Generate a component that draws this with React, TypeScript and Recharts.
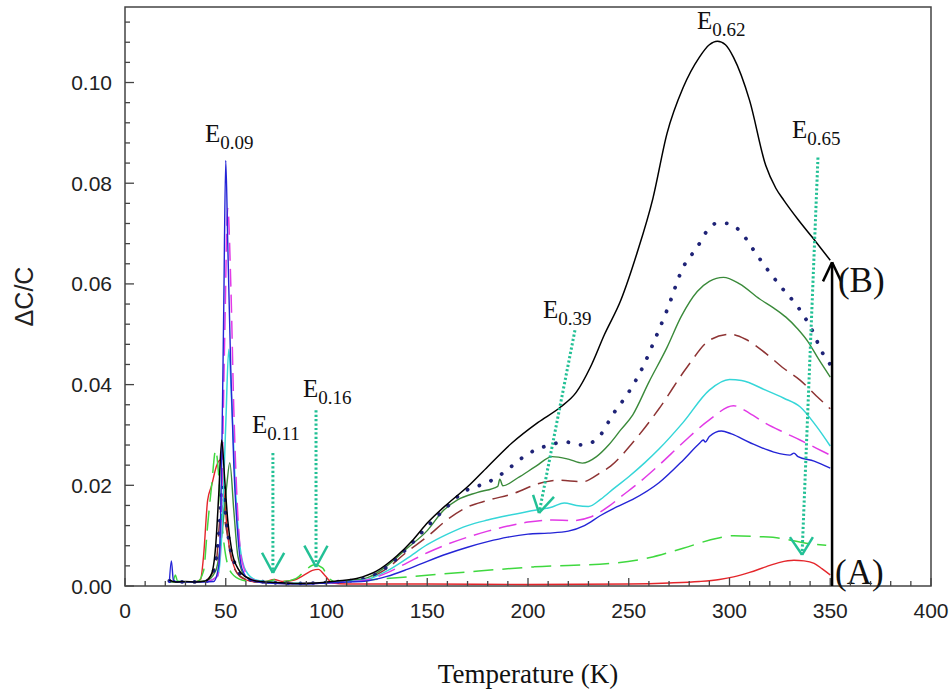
import React from 'react';
import { LineChart, Line, XAxis, YAxis, ReferenceArea, ReferenceLine, ReferenceDot } from 'recharts';

type P = [number, number];

// Temperature (K) vs ΔC/C, one array per curve
const blackSolid: P[] = [[22,0.0012],[25,0.0008],[30,0.0009],[35,0.0008],[40,0.0010],[43,0.0025],[45,0.008],[46.5,0.018],[48,0.029],[49.5,0.021],[51,0.013],[53,0.007],[56,0.0035],[60,0.0018],[65,0.0010],[75,0.0007],[85,0.0005],[95,0.0006],[105,0.0010],[115,0.0015],[125,0.0030],[135,0.0060],[143,0.0092],[150,0.0125],[160,0.0163],[170,0.0197],[180,0.0237],[192,0.0284],[205,0.0325],[216,0.0355],[224,0.0385],[231,0.0435],[238,0.0500],[246,0.0567],[254,0.0660],[262,0.0770],[269,0.0899],[277,0.0990],[285,0.1050],[290,0.1075],[294,0.1082],[298,0.1075],[302,0.1050],[310,0.0964],[318,0.0835],[323,0.0790],[327,0.0766],[334,0.0728],[341,0.0693],[350,0.0647]];
const navyDotted: P[] = [[22,0.0010],[30,0.0008],[40,0.0009],[44,0.003],[46.5,0.010],[48.5,0.020],[50,0.014],[52,0.008],[55,0.004],[60,0.0015],[70,0.0008],[85,0.0005],[100,0.0007],[110,0.0010],[120,0.0016],[130,0.0038],[140,0.0075],[150,0.0118],[160,0.0158],[168,0.0187],[176,0.0200],[183,0.0212],[191,0.0235],[199,0.0260],[209,0.0278],[219,0.0286],[225,0.0280],[231,0.0284],[236,0.0300],[242,0.0340],[250,0.0385],[257,0.0435],[263,0.0490],[269,0.0548],[277,0.0633],[284,0.0673],[289,0.0706],[294,0.0721],[299,0.0720],[305,0.0706],[312,0.0667],[318,0.0633],[325,0.0597],[335,0.0548],[341,0.0508],[346,0.0464],[350,0.0440]];
const greenSolid: P[] = [[22,0.0008],[30,0.0008],[40,0.0010],[45,0.003],[48,0.010],[50.5,0.020],[52,0.0245],[54,0.015],[56,0.006],[60,0.0018],[70,0.0008],[85,0.0005],[100,0.0007],[110,0.0010],[120,0.0016],[130,0.0040],[140,0.0075],[150,0.0110],[158,0.0150],[165,0.0171],[175,0.0186],[185,0.0198],[186,0.0212],[187.5,0.0199],[195,0.0215],[204,0.0238],[212,0.0257],[220,0.0252],[227,0.0244],[234,0.0257],[240,0.0280],[246,0.0310],[252,0.0340],[260,0.0405],[269,0.0474],[276,0.0535],[284,0.0585],[290,0.0605],[297,0.0613],[305,0.0600],[315,0.0570],[322,0.0552],[328,0.0534],[334,0.0510],[339,0.0485],[344,0.0452],[350,0.0415]];
const brownDashed: P[] = [[40,0.0010],[45,0.004],[48,0.016],[50,0.012],[53,0.005],[57,0.002],[65,0.0008],[85,0.0005],[100,0.0007],[110,0.0010],[120,0.0015],[130,0.0035],[140,0.0068],[150,0.0098],[160,0.0132],[170,0.0157],[180,0.0170],[193,0.0184],[205,0.0203],[215,0.0210],[227,0.0207],[236,0.0225],[241,0.0238],[252,0.0285],[265,0.0352],[279,0.0435],[290,0.0488],[300,0.0500],[308,0.0490],[318,0.0462],[327,0.0432],[335,0.0409],[343,0.0378],[350,0.0352]];
const cyanSolid: P[] = [[40,0.0008],[46,0.002],[48,0.010],[50,0.032],[51.5,0.047],[53,0.036],[55,0.018],[57,0.008],[60,0.003],[65,0.0012],[75,0.0007],[90,0.0005],[100,0.0007],[110,0.0009],[120,0.0013],[130,0.0030],[140,0.0055],[150,0.0082],[160,0.0103],[170,0.0120],[180,0.0131],[190,0.0140],[200,0.0148],[212,0.0157],[218,0.0165],[224,0.0160],[230,0.0158],[236,0.0172],[243,0.0195],[250,0.0217],[258,0.0245],[265,0.0272],[277,0.0325],[290,0.0389],[300,0.0410],[306,0.0408],[318,0.0389],[327,0.0373],[335,0.0356],[343,0.0318],[350,0.0278]];
const magentaDashed: P[] = [[40,0.0008],[46,0.002],[48,0.018],[49.5,0.050],[51,0.075],[52.5,0.060],[54,0.035],[56,0.014],[58,0.005],[62,0.0015],[70,0.0007],[90,0.0005],[100,0.0006],[110,0.0008],[120,0.0012],[130,0.0026],[140,0.0046],[150,0.0066],[160,0.0083],[170,0.0097],[180,0.0109],[190,0.0119],[200,0.0127],[212,0.0131],[222,0.0130],[231,0.0137],[240,0.0158],[246,0.0177],[255,0.0205],[265,0.0240],[277,0.0285],[290,0.0330],[302,0.0358],[310,0.0343],[318,0.0323],[327,0.0305],[335,0.0290],[343,0.0274],[350,0.0260]];
const blueSolid: P[] = [[22,0.0006],[23,0.005],[24,0.0012],[26,0.0008],[35,0.0008],[44,0.0009],[46.5,0.004],[48,0.025],[49,0.055],[50,0.0845],[51,0.068],[52.5,0.043],[54,0.024],[56,0.010],[58,0.0035],[62,0.0012],[70,0.0006],[90,0.0004],[100,0.0006],[110,0.0008],[120,0.0010],[130,0.0019],[140,0.0033],[150,0.0049],[160,0.0064],[170,0.0077],[180,0.0088],[190,0.0097],[200,0.0103],[210,0.0105],[220,0.0109],[228,0.0120],[236,0.0140],[244,0.0157],[252,0.0172],[265,0.0205],[277,0.0250],[285,0.0283],[287,0.0290],[288,0.0286],[290,0.0297],[296,0.0308],[301,0.0302],[310,0.0285],[322,0.0266],[330,0.0260],[332,0.0264],[334,0.0257],[342,0.0248],[350,0.0234]];
const limeDashed: P[] = [[24,0.0008],[25,0.0022],[26,0.0010],[30,0.0008],[36,0.0009],[39,0.003],[41,0.012],[43,0.020],[45,0.027],[46.5,0.022],[48,0.013],[50,0.006],[53,0.0025],[58,0.0012],[65,0.0008],[72,0.0010],[75,0.0013],[79,0.0009],[85,0.0015],[90,0.0033],[94,0.0042],[98,0.0036],[101,0.0016],[105,0.0008],[120,0.0012],[140,0.0018],[170,0.0028],[203,0.0038],[244,0.0046],[260,0.0056],[277,0.0075],[294,0.0095],[302,0.0100],[315,0.0098],[325,0.0095],[338,0.0085],[348,0.0081]];
const redSolid: P[] = [[35,0.0008],[37.5,0.0013],[39,0.006],[41,0.017],[43,0.020],[45.3,0.0237],[47,0.025],[49,0.019],[51,0.010],[54,0.004],[58,0.0016],[65,0.0008],[70,0.0009],[74,0.0013],[78,0.0009],[84,0.0012],[89,0.0022],[93,0.0031],[96,0.0033],[99,0.0022],[103,0.0006],[110,0.0004],[150,0.0004],[200,0.0003],[250,0.0004],[270,0.0006],[285,0.0009],[295,0.0013],[302,0.0018],[310,0.0027],[318,0.0038],[325,0.0047],[332,0.0051],[337,0.0050],[342,0.0045],[346,0.0034],[350,0.0022]];

const xTickValues = [0, 50, 100, 150, 200, 250, 300, 350, 400];
const yTickValues = [0, 0.02, 0.04, 0.06, 0.08, 0.1];
const xMinorStep = 10;
const yMinorStep = 0.004;
const xMax = 400;
const yMax = 0.115;

// Energy labels: subscript text, anchor (T, ΔC/C)
const energyLabels = [
  { sub: '0.09', x: 39.7, y: 0.0881 },
  { sub: '0.11', x: 63, y: 0.0304 },
  { sub: '0.16', x: 88.3, y: 0.0375 },
  { sub: '0.39', x: 207.4, y: 0.0532 },
  { sub: '0.62', x: 283.9, y: 0.1107 },
  { sub: '0.65', x: 331, y: 0.0889 },
];

// Arrows: start, tip, arrowhead arm ends
const energyArrows = [
  { from: [73.4, 0.0264], tip: [73.4, 0.0026], l: [68, 0.0066], r: [79, 0.0066] },
  { from: [94.8, 0.0349], tip: [94.8, 0.0038], l: [89, 0.0080], r: [100.5, 0.0080] },
  { from: [223.3, 0.0508], tip: [205.5, 0.0145], l: [202.5, 0.0181], r: [212.9, 0.0177] },
  { from: [343.9, 0.0851], tip: [336, 0.0062], l: [330, 0.0097], r: [341.4, 0.0097] },
];
const rangeArrow = { from: [350.9, 0], tip: [350.9, 0.0643], l: [346.4, 0.0605], r: [355.4, 0.0605] };
const endLabels = [
  { text: '(B)', x: 353.8, y: 0.0583 },
  { text: '(A)', x: 352.4, y: 0.0004 },
];

const xTicks: number[] = [];
for (let v = 0; v <= xMax + 1e-9; v += xMinorStep) xTicks.push(Math.round(v));
const yTicks: number[] = [];
for (let i = 0; i * yMinorStep <= yMax; i++) yTicks.push(Math.round(i * yMinorStep * 1000) / 1000);

const toXY = (arr: P[]) => arr.map(([x, y]) => ({ x, y }));

const series = [
  { key: 'red', data: redSolid, color: '#e4262b', dash: undefined as string | undefined, w: 1.4 },
  { key: 'lime', data: limeDashed, color: '#3fd83f', dash: '20 9', w: 1.5 },
  { key: 'brown', data: brownDashed, color: '#8e3434', dash: '16 8', w: 1.5 },
  { key: 'green', data: greenSolid, color: '#3a8a3a', dash: undefined, w: 1.4 },
  { key: 'navy', data: navyDotted, color: '#1f2377', dash: '0.1 12.5', w: 3.8 },
  { key: 'cyan', data: cyanSolid, color: '#35d6d8', dash: undefined, w: 1.5 },
  { key: 'magenta', data: magentaDashed, color: '#e23ae6', dash: '18 8', w: 1.5 },
  { key: 'blue', data: blueSolid, color: '#2424d6', dash: undefined, w: 1.4 },
  { key: 'black', data: blackSolid, color: '#000000', dash: undefined, w: 1.5 },
];

const SANS = '"Liberation Sans", Arial, sans-serif';
const SERIF = '"Liberation Serif", "Times New Roman", serif';
const TEAL = '#22c095';
const AXIS = '#444';

const XTick = (props: any) => {
  const { x, y, payload } = props;
  const v = payload.value as number;
  const major = xTickValues.includes(v);
  return (
    <g>
      <line x1={x} x2={x} y1={y} y2={y - (major ? 8 : 5)} stroke={AXIS} strokeWidth={1.3} />
      {major && (
        <text x={x} y={y + 32} textAnchor="middle" fontFamily={SANS} fontSize={21} fill="#222">
          {v}
        </text>
      )}
    </g>
  );
};

const YTick = (props: any) => {
  const { x, y, payload } = props;
  const v = payload.value as number;
  const major = yTickValues.some((t) => Math.abs(t - v) < 1e-7);
  return (
    <g>
      <line x1={x} x2={x + (major ? 9 : 5)} y1={y} y2={y} stroke={AXIS} strokeWidth={1.3} />
      {major && (
        <text x={x - 13} y={y + 7.5} textAnchor="end" fontFamily={SANS} fontSize={21} fill="#222">
          {v.toFixed(2)}
        </text>
      )}
    </g>
  );
};

const seg = (a: number[], b: number[]) => [
  { x: a[0], y: a[1] },
  { x: b[0], y: b[1] },
];

export default function App() {
  return (
    <div style={{ position: 'absolute', left: 0, top: 0 }}>
      <LineChart width={952} height={695} margin={{ top: 7, right: 21, bottom: 0, left: 0 }}>
        <XAxis
          type="number"
          dataKey="x"
          domain={[0, xMax]}
          ticks={xTicks}
          interval={0}
          tickSize={0}
          tickMargin={0}
          axisLine={false}
          tick={<XTick />}
          height={109}
          allowDataOverflow
          label={{
            content: (p: any) => {
              const vb = p.viewBox || { x: 125, y: 586, width: 806, height: 109 };
              return (
                <text x={vb.x + vb.width / 2} y={vb.y + 97} textAnchor="middle" fontFamily={SERIF} fontSize={27} fill="#111">
                  Temperature (K)
                </text>
              );
            },
          }}
        />
        <YAxis
          type="number"
          dataKey="y"
          domain={[0, yMax]}
          ticks={yTicks}
          interval={0}
          tickSize={0}
          tickMargin={0}
          axisLine={false}
          tick={<YTick />}
          width={125}
          allowDataOverflow
          label={{
            content: (p: any) => {
              const vb = p.viewBox || { x: 0, y: 7, width: 125, height: 579 };
              const cy = vb.y + vb.height / 2;
              return (
                <text x={24} y={cy} transform={`rotate(-90, 24, ${cy})`} textAnchor="middle" dominantBaseline="central" fontFamily={SANS} fontSize={25} fill="#222">
                  ΔC/C
                </text>
              );
            },
          }}
        />
        {series.map((s) => (
          <Line
            key={s.key}
            data={toXY(s.data)}
            dataKey="y"
            type="monotone"
            stroke={s.color}
            strokeWidth={s.w}
            strokeDasharray={s.dash}
            strokeLinecap={s.key === 'navy' ? 'round' : 'butt'}
            dot={false}
            activeDot={false}
            isAnimationActive={false}
          />
        ))}
        <ReferenceArea x1={0} x2={xMax} y1={0} y2={yMax} fill="none" stroke={AXIS} strokeWidth={1.5} ifOverflow="visible" />
        {energyArrows.map((a, i) => (
          <ReferenceLine key={`s${i}`} segment={seg(a.from, a.tip)} stroke={TEAL} strokeWidth={3} strokeDasharray="2.2 2.2" ifOverflow="visible" />
        ))}
        {energyArrows.map((a, i) => (
          <ReferenceLine key={`l${i}`} segment={seg(a.l, a.tip)} stroke={TEAL} strokeWidth={2.5} ifOverflow="visible" />
        ))}
        {energyArrows.map((a, i) => (
          <ReferenceLine key={`r${i}`} segment={seg(a.r, a.tip)} stroke={TEAL} strokeWidth={2.5} ifOverflow="visible" />
        ))}
        <ReferenceLine segment={seg(rangeArrow.from, rangeArrow.tip)} stroke="#000" strokeWidth={2.5} ifOverflow="visible" />
        <ReferenceLine segment={seg(rangeArrow.l, rangeArrow.tip)} stroke="#000" strokeWidth={2.5} ifOverflow="visible" />
        <ReferenceLine segment={seg(rangeArrow.r, rangeArrow.tip)} stroke="#000" strokeWidth={2.5} ifOverflow="visible" />
        {energyLabels.map((l, i) => (
          <ReferenceDot
            key={`e${i}`}
            x={l.x}
            y={l.y}
            r={0}
            ifOverflow="visible"
            shape={(p: any) => (
              <text x={p.cx} y={p.cy} fontFamily={SERIF} fontSize={25} fill="#111">
                E
                <tspan fontSize={19} dy={7}>
                  {l.sub}
                </tspan>
              </text>
            )}
          />
        ))}
        {endLabels.map((l, i) => (
          <ReferenceDot
            key={`a${i}`}
            x={l.x}
            y={l.y}
            r={0}
            ifOverflow="visible"
            shape={(p: any) => (
              <text x={p.cx} y={p.cy} fontFamily={SERIF} fontSize={35} fill="#111">
                {l.text}
              </text>
            )}
          />
        ))}
      </LineChart>
    </div>
  );
}
